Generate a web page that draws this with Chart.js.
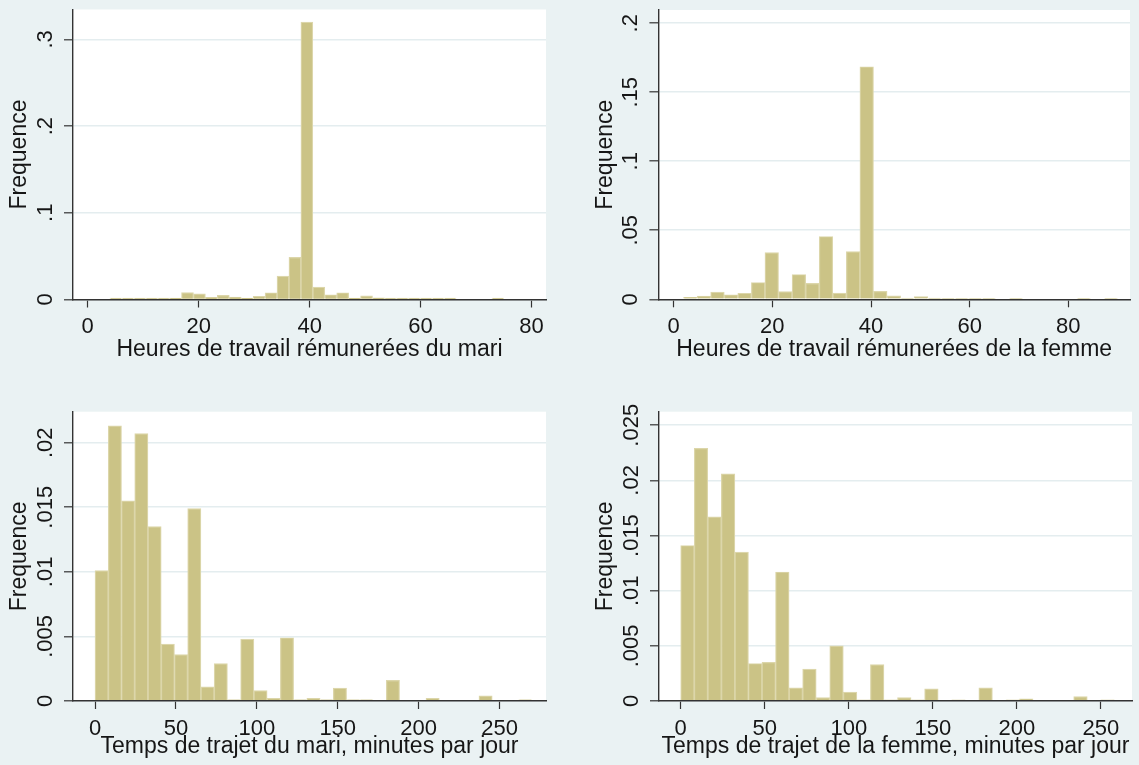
<!DOCTYPE html>
<html>
<head>
<meta charset="utf-8">
<script src="https://cdn.jsdelivr.net/npm/chart.js@4.4.1/dist/chart.umd.min.js"></script>
<style>
  html, body { margin: 0; padding: 0; background: #EAF2F3; }
  #wrap { position: relative; width: 1139px; height: 765px; overflow: hidden; background: #EAF2F3; }
  #wrap canvas { position: absolute; }
</style>
</head>
<body>
<div id="wrap">
  <canvas id="c1"></canvas>
  <canvas id="c2"></canvas>
  <canvas id="c3"></canvas>
  <canvas id="c4"></canvas>
</div>
<script>
// ---- Histogram densities (one value per bin, bins span [min, max]) ----
const heuresMariMin = 4, heuresMariMax = 75;
const heuresMariFreq = [
  0.0015, 0.0015, 0.0015, 0.0015, 0.0015, 0.0017, 0.0080, 0.0066, 0.0025, 0.0048,
  0.0028, 0.0016, 0.0038, 0.0078, 0.0270, 0.0487, 0.3200, 0.0142, 0.0055, 0.0078,
  0.0016, 0.0042, 0.0018, 0.0015, 0.0015, 0.0015, 0.0015, 0.0015, 0.0015, 0,
  0, 0, 0.0015
];

const heuresFemmeMin = 2, heuresFemmeMax = 90;
const heuresFemmeFreq = [
  0.0015, 0.0024, 0.0052, 0.0033, 0.0044, 0.0122, 0.0338, 0.0056, 0.0180, 0.0116,
  0.0455, 0.0045, 0.0345, 0.1685, 0.0057, 0.0025, 0.0009, 0.0020, 0.0008, 0.0007,
  0.0007, 0.0007, 0.0007, 0, 0.0007, 0, 0, 0, 0, 0.0007,
  0, 0.0007
];

const trajetMariMin = 0, trajetMariMax = 270;
const trajetMariFreq = [
  0.0101, 0.0213, 0.0155, 0.0207, 0.0135, 0.0044, 0.0036, 0.0149, 0.0011, 0.0029,
  0.0001, 0.0048, 0.0008, 0.0002, 0.0049, 0.0001, 0.0002, 0.0001, 0.0010, 0.0001,
  0.0001, 0, 0.0016, 0, 0, 0.0002, 0, 0, 0, 0.0004,
  0, 0, 0.0001
];

const trajetFemmeMin = 0, trajetFemmeMax = 258;
const trajetFemmeFreq = [
  0.0141, 0.0229, 0.0167, 0.0206, 0.0135, 0.0034, 0.0035, 0.0117, 0.0012, 0.0029,
  0.0003, 0.0050, 0.0008, 0.0001, 0.0033, 0.0001, 0.0003, 0.0001, 0.0011, 0,
  0.0001, 0, 0.0012, 0, 0.0001, 0.0002, 0, 0, 0, 0.0004,
  0, 0.0001
];

// ---- Tick values ----
const heuresTicksX = [0, 20, 40, 60, 80];
const trajetTicksX = [0, 50, 100, 150, 200, 250];
const heuresMariTicksY = [0, 0.1, 0.2, 0.3];
const heuresFemmeTicksY = [0, 0.05, 0.1, 0.15, 0.2];
const trajetMariTicksY = [0, 0.005, 0.01, 0.015, 0.02];
const trajetFemmeTicksY = [0, 0.005, 0.01, 0.015, 0.02, 0.025];

// ---- Axis titles ----
const titreY = 'Frequence';
const titreHeuresMari = 'Heures de travail rémunerées du mari';
const titreHeuresFemme = 'Heures de travail rémunerées de la femme';
const titreTrajetMari = 'Temps de trajet du mari, minutes par jour';
const titreTrajetFemme = 'Temps de trajet de la femme, minutes par jour';

// ---- Styling ----
const FAMILY = "'Liberation Sans', Arial, Helvetica, sans-serif";
const TICK_SIZE = 22;
const TITLE_SIZE = 23;
const LINE_H = 1.2;
const TEXT_COLOR = '#161616';
const AXIS_COLOR = '#333333';
const GRID_COLOR = '#E4EDEF';
const BAR_FILL = '#CBC386';
const BAR_EDGE = '#DCD6AA';

// Stata-style numbers: drop the leading zero (0.15 -> .15)
function stataFmt(v) {
  if (v === 0) return '0';
  return String(+v.toFixed(4)).replace(/^0\./, '.');
}

function histPoints(lo, hi, freq) {
  const w = (hi - lo) / freq.length;
  return freq.map((f, i) => ({ x: lo + (i + 0.5) * w, y: f }));
}

const measureCtx = document.createElement('canvas').getContext('2d');
function widestLabel(values) {
  measureCtx.font = TICK_SIZE + 'px ' + FAMILY;
  return Math.max(...values.map(v => measureCtx.measureText(stataFmt(v)).width));
}

// White plot region behind the bars
const plotRegion = {
  id: 'plotRegion',
  beforeDraw(chart) {
    const { ctx, chartArea: a } = chart;
    ctx.save();
    ctx.fillStyle = '#ffffff';
    ctx.fillRect(a.left, a.top, a.right - a.left, a.bottom - a.top);
    ctx.restore();
  }
};

// Panel frames: canvas box on the page and plot rectangle inside it
const panels = [
  { id: 'c1', left: 0,   top: 0,   w: 570, h: 382, area: { l: 73,   r: 546, t: 9.5,  b: 299.5 },
    lo: heuresMariMin, hi: heuresMariMax, freq: heuresMariFreq,
    xMin: -2.65, xMax: 82.6, yMax: 0.3345, ticksX: heuresTicksX, ticksY: heuresMariTicksY,
    titleX: titreHeuresMari, yTitleX: 20, xTitleY: 349.5 },
  { id: 'c2', left: 570, top: 0,   w: 569, h: 382, area: { l: 88.4, r: 560, t: 10,   b: 299.3 },
    lo: heuresFemmeMin, hi: heuresFemmeMax, freq: heuresFemmeFreq,
    xMin: -3.1, xMax: 92.5, yMax: 0.2096, ticksX: heuresTicksX, ticksY: heuresFemmeTicksY,
    titleX: titreHeuresFemme, yTitleX: 35.7, xTitleY: 349.5 },
  { id: 'c3', left: 0,   top: 382, w: 570, h: 383, area: { l: 73,   r: 546, t: 29.7, b: 319 },
    lo: trajetMariMin, hi: trajetMariMax, freq: trajetMariFreq,
    xMin: -13.6, xMax: 278.7, yMax: 0.0224, ticksX: trajetTicksX, ticksY: trajetMariTicksY,
    titleX: titreTrajetMari, yTitleX: 20, xTitleY: 365 },
  { id: 'c4', left: 570, top: 382, w: 569, h: 383, area: { l: 89,   r: 562, t: 29.7, b: 319 },
    lo: trajetFemmeMin, hi: trajetFemmeMax, freq: trajetFemmeFreq,
    xMin: -12.9, xMax: 268.5, yMax: 0.02623, ticksX: trajetTicksX, ticksY: trajetFemmeTicksY,
    titleX: titreTrajetFemme, yTitleX: 35.7, xTitleY: 365 }
];

const Y_TICK_LEN = 9, X_TICK_LEN = 8;
const Y_LABEL_OFFSET = 27;   // tick label centre, left of the axis
const X_LABEL_OFFSET = 27.7; // tick label centre, below the axis

panels.forEach(p => {
  const cv = document.getElementById(p.id);
  cv.width = p.w; cv.height = p.h;
  cv.style.left = p.left + 'px'; cv.style.top = p.top + 'px';
  cv.style.width = p.w + 'px'; cv.style.height = p.h + 'px';

  const tickHalf = TICK_SIZE * LINE_H / 2;
  const titleHalf = TITLE_SIZE * LINE_H / 2;
  const yPad = Y_LABEL_OFFSET - Y_TICK_LEN - widestLabel(p.ticksY) / 2;

  new Chart(cv, {
    type: 'bar',
    data: {
      datasets: [{
        data: histPoints(p.lo, p.hi, p.freq),
        backgroundColor: BAR_FILL,
        borderColor: BAR_EDGE,
        borderWidth: c => (c.raw && c.raw.y > 0 ? 1.2 : 0),
        borderSkipped: 'start',
        barPercentage: 1,
        categoryPercentage: 1
      }]
    },
    options: {
      responsive: false,
      animation: false,
      devicePixelRatio: 1,
      events: [],
      layout: { padding: { left: 0, top: p.area.t, right: p.w - p.area.r, bottom: 0 } },
      plugins: { legend: { display: false }, tooltip: { enabled: false } },
      scales: {
        x: {
          type: 'linear',
          position: 'bottom',
          min: p.xMin, max: p.xMax,
          offset: false,
          afterBuildTicks: s => { s.ticks = p.ticksX.map(v => ({ value: v })); },
          afterFit: s => {
            s.height = p.h - p.area.b;
            s.paddingLeft = 0; s.paddingRight = 0; s.paddingTop = 0; s.paddingBottom = 0;
          },
          grid: { display: true, drawOnChartArea: false, drawTicks: true, offset: false,
                  tickLength: X_TICK_LEN, tickColor: AXIS_COLOR, tickWidth: 1.2 },
          border: { display: true, color: AXIS_COLOR, width: 1.4, z: 1 },
          ticks: {
            autoSkip: false, maxRotation: 0, minRotation: 0,
            padding: X_LABEL_OFFSET - X_TICK_LEN - tickHalf,
            color: TEXT_COLOR,
            font: { family: FAMILY, size: TICK_SIZE, lineHeight: LINE_H },
            callback: v => stataFmt(v)
          },
          title: {
            display: true, text: p.titleX, color: TEXT_COLOR,
            font: { family: FAMILY, size: TITLE_SIZE, lineHeight: LINE_H },
            padding: { top: 0, bottom: p.h - p.xTitleY - titleHalf }
          }
        },
        y: {
          type: 'linear',
          position: 'left',
          min: 0, max: p.yMax,
          afterBuildTicks: s => { s.ticks = p.ticksY.map(v => ({ value: v })); },
          afterFit: s => {
            s.width = p.area.l;
            s.paddingLeft = 0; s.paddingRight = 0; s.paddingTop = 0; s.paddingBottom = 0;
          },
          grid: { display: true, drawOnChartArea: true, drawTicks: true,
                  color: GRID_COLOR, lineWidth: 1.6,
                  tickLength: Y_TICK_LEN, tickColor: AXIS_COLOR, tickWidth: 1.2 },
          border: { display: true, color: AXIS_COLOR, width: 1.4, z: 1 },
          ticks: {
            autoSkip: false, minRotation: 90, maxRotation: 90,
            crossAlign: 'center',
            padding: yPad,
            color: TEXT_COLOR,
            font: { family: FAMILY, size: TICK_SIZE, lineHeight: LINE_H },
            callback: v => stataFmt(v)
          },
          title: {
            display: true, text: titreY, color: TEXT_COLOR,
            font: { family: FAMILY, size: TITLE_SIZE, lineHeight: LINE_H },
            padding: { top: p.yTitleX - titleHalf, bottom: 0 }
          }
        }
      }
    },
    plugins: [plotRegion]
  });
});
</script>
</body>
</html>
